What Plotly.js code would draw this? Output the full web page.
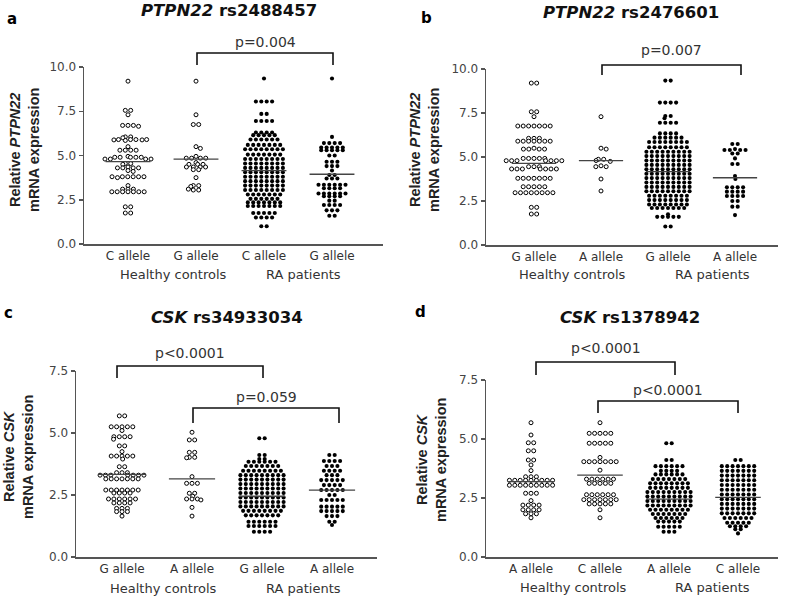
<!DOCTYPE html>
<html><head><meta charset="utf-8">
<script src="https://cdn.plot.ly/plotly-3.0.1.min.js"></script>
<style>html,body{margin:0;padding:0;background:#fff}#chart{width:787px;height:600px}</style>
</head><body><div id="chart"></div>
<script>
// ---------------- DATA ----------------
const groupLabels = ['Healthy controls', 'RA patients'];

// Panel a: PTPN22 rs2488457
const aTicks = ['C allele', 'G allele', 'C allele', 'G allele'];
const aHcC = [9.2, 7.55,7.55, 7.3, 6.7,6.7,6.7,6.65, 6.05,6.05,6.0, 5.9,5.9,5.9,5.88,5.88,5.9,5.85, 5.5,
  5.3,5.3,5.3,5.3, 4.95,4.9,4.9,4.9,4.9,4.9, 4.8,4.8,4.8,4.8, 4.55,4.55,4.5, 4.35,4.3,4.3,4.3,4.3, 4.15,4.1,
  3.8,3.8,3.8,3.8,3.75,3.8,3.8, 3.3, 3.1,3.1,3.1, 2.95,2.95,2.95,2.95,2.95,2.95,2.95, 2.1,2.1, 1.75,1.75];
const aHcG = [9.2, 7.3, 6.75,6.75, 5.5, 5.4, 4.95, 4.85,4.85,4.85,4.85, 4.6, 4.5,4.5,4.5, 4.35,4.35,4.35,4.35,
  4.2,4.2, 3.75, 3.3,3.3, 3.25, 3.05,3.05,3.1];
const aRaC = [9.35, 8.05,8.05,8.05,8.05, 7.35,7.35, 6.95,6.95,6.95,6.95, 6.3,6.3,6.3,6.3, 6.15,6.15,6.15,6.15,6.15,
  5.9,5.9,5.9,5.9,5.9,5.9, 5.6,5.6,5.6,5.6,5.6,5.6,5.6, 5.35,5.35,5.35,5.35,5.35,5.35,5.35,5.35,
  5.05,5.05,5.05,5.05,5.05,5.05,5.05, 4.8,4.8,4.8,4.8,4.8,4.8,4.8,4.8, 4.55,4.55,4.55,4.55,4.55,4.55,4.55,4.55,
  4.3,4.3,4.3,4.3,4.3,4.3,4.3,4.3, 4.05,4.05,4.05,4.05,4.05,4.05,4.05,4.05, 3.8,3.8,3.8,3.8,3.8,3.8,3.8,3.8,
  3.55,3.55,3.55,3.55,3.55,3.55,3.55,3.55, 3.3,3.3,3.3,3.3,3.3,3.3,3.3,3.3, 3.05,3.05,3.05,3.05,3.05,3.05,3.05,3.05,
  2.8,2.8,2.8,2.8,2.8,2.8,2.8, 2.55,2.55,2.55,2.55,2.55,2.55, 2.35,2.35,2.35,2.35,2.35,2.35,2.35,
  2.15,2.15,2.15,2.15,2.15,2.15,2.15, 1.75,1.75,1.75,1.75,1.75, 1.5,1.5,1.5,1.5, 1.0,1.0];
const aRaG = [9.35, 6.05, 5.7,5.7,5.7,5.7, 5.45,5.45,5.45,5.45,5.45, 5.3,5.3,5.3,5.3,5.3, 5.0,5.0, 4.65,4.65,4.65,
  4.4,4.4,4.4, 4.15, 3.9,3.9, 3.7,3.7,3.7, 3.35,3.35,3.35,3.35,3.35,3.35, 3.15,3.15,3.15,3.15,
  2.85,2.85,2.85,2.85,2.85,2.85, 2.7,2.7,2.7,2.7, 2.45,2.45, 2.2,2.2,2.2,2.2, 1.9,1.9,1.9, 1.6,1.6];
const aMeans = [4.65, 4.8, 4.15, 3.94];

// Panel b: PTPN22 rs2476601
const bTicks = ['G allele', 'A allele', 'G allele', 'A allele'];
const bHcG = [9.2,9.2, 7.57,7.57, 7.29, 6.76,6.76,6.76,6.76,6.76,6.76,6.76, 6.06,6.06,6.06, 5.9,5.9,5.9,5.9,5.9,5.9,5.9,
  5.5, 5.45,5.45,5.45,5.45, 4.92,4.92,4.92,4.92,4.92, 4.79,4.79,4.79,4.79,4.79,4.79,4.79, 4.45,4.45,4.45,
  4.32,4.32,4.32,4.32,4.32,4.32,4.32, 3.79,3.79,3.79,3.79,3.79,3.79,3.79, 3.31,3.31,3.31,3.31,3.31,
  2.97,2.97,2.97,2.97,2.97,2.97,2.97,2.97, 2.14,2.14, 1.76,1.76];
const bHcA = [7.29, 5.5, 5.45, 4.87, 4.87, 4.8, 4.75, 4.5, 4.45, 4.45, 3.75, 3.07];
const bRaG = [9.34,9.34, 8.09,8.09,8.09,8.09, 7.33,7.33, 7.2, 6.95,6.95,6.95,6.95, 6.34,6.34,6.34,6.34,
  6.1,6.1,6.1,6.1,6.1,6.1, 5.85,5.85,5.85,5.85,5.85,5.85,5.85,5.85, 5.55,5.55,5.55,5.55,5.55,5.55,5.55,5.55,
  5.3,5.3,5.3,5.3,5.3,5.3,5.3,5.3,5.3, 5.05,5.05,5.05,5.05,5.05,5.05,5.05,5.05,5.05,
  4.8,4.8,4.8,4.8,4.8,4.8,4.8,4.8,4.8, 4.55,4.55,4.55,4.55,4.55,4.55,4.55,4.55,4.55,
  4.3,4.3,4.3,4.3,4.3,4.3,4.3,4.3,4.3, 4.05,4.05,4.05,4.05,4.05,4.05,4.05,4.05,4.05,
  3.8,3.8,3.8,3.8,3.8,3.8,3.8,3.8,3.8, 3.55,3.55,3.55,3.55,3.55,3.55,3.55,3.55,3.55,
  3.3,3.3,3.3,3.3,3.3,3.3,3.3,3.3,3.3, 3.05,3.05,3.05,3.05,3.05,3.05,3.05,3.05,3.05,
  2.8,2.8,2.8,2.8,2.8,2.8,2.8,2.8, 2.55,2.55,2.55,2.55,2.55,2.55,2.55,2.55, 2.3,2.3,2.3,2.3,2.3,2.3,2.3,2.3,
  2.1,2.1,2.1,2.1,2.1,2.1,2.1, 1.75, 1.6,1.6,1.6,1.6,1.6, 1.05,1.05];
const bRaA = [5.74,5.74, 5.45, 5.4,5.4,5.4,5.4, 5.2,5.2, 4.92, 4.6,4.6, 3.92, 3.75, 3.28,3.28,3.28,3.28,
  3.03,3.03,3.03,3.03, 2.78,2.78,2.78,2.78, 2.5,2.5, 2.18,2.18, 1.7];
const bMeans = [4.64, 4.79, 4.17, 3.82];

// Panel c: CSK rs34933034
const cTicks = ['G allele', 'A allele', 'G allele', 'A allele'];
const cHcG = [5.69,5.69, 5.25,5.25,5.25,5.25,5.25, 5.1, 4.85,4.85,4.85,4.85, 4.75, 4.48,4.48, 4.25,
  4.07,4.07,4.07,4.07,4.07, 3.95, 3.64,3.64, 3.4,3.4,3.4, 3.3,3.3,3.3,3.3,3.3,3.3,3.3,
  3.15,3.15,3.15,3.15,3.15,3.15,3.15, 2.7,2.7,2.7,2.7,2.7,2.7,2.7, 2.58,2.58,2.58,2.58,
  2.34,2.34,2.34,2.34,2.34,2.34, 2.18,2.18,2.18,2.18, 1.96,1.96,1.96, 1.83,1.83,1.83, 1.65];
const cHcA = [5.03, 4.72,4.72, 4.22,4.22, 4.02,4.02,4.0, 3.24, 2.97,2.97,2.97, 2.57,2.57, 2.45,
  2.34,2.34,2.34,2.3, 2.0, 1.65];
const cRaG = [4.79,4.79, 4.11,4.11, 3.95,3.95, 3.84,3.84,3.84,3.84,3.84,3.84, 3.67,3.67,3.67,3.67,3.67,3.67,3.67,
  3.48,3.48,3.48,3.48,3.48,3.48,3.48,3.48, 3.3,3.3,3.3,3.3,3.3,3.3,3.3,3.3,3.3,
  3.12,3.12,3.12,3.12,3.12,3.12,3.12,3.12,3.12, 2.94,2.94,2.94,2.94,2.94,2.94,2.94,2.94,2.94,
  2.76,2.76,2.76,2.76,2.76,2.76,2.76,2.76,2.76, 2.58,2.58,2.58,2.58,2.58,2.58,2.58,2.58,2.58,
  2.4,2.4,2.4,2.4,2.4,2.4,2.4,2.4,2.4, 2.22,2.22,2.22,2.22,2.22,2.22,2.22,2.22,2.22,
  2.04,2.04,2.04,2.04,2.04,2.04,2.04,2.04,2.04, 1.86,1.86,1.86,1.86,1.86,1.86,1.86,1.86,
  1.68,1.68,1.68,1.68,1.68,1.68,1.68, 1.42,1.42,1.42,1.42,1.42,1.42, 1.25,1.25,1.25,1.25,1.25,1.25,
  1.02,1.02,1.02,1.02];
const cRaA = [4.11,4.11, 3.87,3.87,3.87,3.87, 3.67,3.67,3.67, 3.48,3.48,3.48,3.48, 3.3,3.3,3.3,
  3.1,3.1,3.1,3.1,3.1, 2.9,2.9,2.9,2.9, 2.7,2.7,2.7,2.7,2.7, 2.5,2.5, 2.3,2.3,2.3,2.3,2.3,
  2.03,2.03,2.03,2.03,2.03, 1.85,1.85,1.85,1.85,1.85, 1.65,1.65,1.65, 1.42,1.42, 1.29];
const cMeans = [3.33, 3.15, 2.45, 2.7];

// Panel d: CSK rs1378942
const dTicks = ['A allele', 'C allele', 'A allele', 'C allele'];
const dHcA = [5.69, 5.17, 4.84,4.84, 4.5,4.5, 4.11,4.11, 3.9, 3.66, 3.4,3.4,3.4,
  3.25,3.25,3.25,3.25,3.25,3.25,3.25,3.25,3.25, 3.04,3.04,3.04,3.04,3.04,3.04,3.04,3.04,3.04,
  2.7,2.7,2.7, 2.39, 2.2,2.2,2.2,2.2, 2.0,2.0,2.0,2.0, 1.83,1.83,1.83, 1.66];
const dHcC = [5.69, 5.24,5.24,5.24,5.24,5.24, 4.82,4.82,4.82,4.82,4.82, 4.22, 4.04,4.04,4.04,4.04,4.04,4.04,4.04,
  3.68, 3.3,3.3,3.3,3.3,3.3,3.3, 3.12,3.12,3.12,3.12,3.12, 2.64,2.64,2.64,2.64,2.64,2.64,
  2.43,2.43,2.43,2.43,2.43,2.43,2.43, 2.25,2.25,2.25,2.25,2.25, 2.0, 1.66];
const dRaA = [4.82,4.82, 4.11,4.11, 3.85,3.85,3.85,3.85,3.85,3.85, 3.65,3.65,3.65,3.65, 3.5,3.5,3.5,3.5,3.5,3.5,
  3.3,3.3,3.3,3.3,3.3,3.3,3.3, 3.12,3.12,3.12,3.12,3.12,3.12,3.12,3.12, 2.93,2.93,2.93,2.93,2.93,2.93,2.93,2.93,
  2.75,2.75,2.75,2.75,2.75,2.75,2.75,2.75,2.75, 2.56,2.56,2.56,2.56,2.56,2.56,2.56,2.56,2.56,
  2.37,2.37,2.37,2.37,2.37,2.37,2.37,2.37,2.37, 2.18,2.18,2.18,2.18,2.18,2.18,2.18,2.18,2.18,
  2.0,2.0,2.0,2.0,2.0,2.0,2.0,2.0, 1.82,1.82,1.82,1.82,1.82,1.82,1.82, 1.65,1.65,1.65,1.65,1.65,1.65,
  1.5,1.5,1.5,1.5,1.5, 1.28,1.28,1.28,1.28,1.28, 1.07,1.07,1.07];
const dRaC = [4.11,4.11, 3.85,3.85,3.85,3.85,3.85,3.85,3.85, 3.65,3.65,3.65,3.65,3.65,3.65,3.65,
  3.45,3.45,3.45,3.45,3.45,3.45,3.45, 3.25,3.25,3.25,3.25,3.25,3.25,3.25, 3.05,3.05,3.05,3.05,3.05,3.05,3.05,
  2.85,2.85,2.85,2.85,2.85,2.85,2.85, 2.65,2.65,2.65,2.65,2.65,2.65,2.65, 2.45,2.45,2.45,2.45,2.45,2.45,2.45,
  2.25,2.25,2.25,2.25,2.25,2.25,2.25, 2.05,2.05,2.05,2.05,2.05,2.05,2.05, 1.85,1.85,1.85,1.85,1.85,1.85,1.85,
  1.65,1.65,1.65,1.65,1.65,1.65, 1.45,1.45,1.45,1.45,1.45, 1.3,1.3,1.3,1.3, 1.18,1.18, 1.0];
const dMeans = [3.19, 3.47, 2.45, 2.53];

// ---------------- LAYOUT GEOMETRY (pixels) ----------------
const W = 787, H = 600;
const FONT = 'DejaVu Sans, Arial, sans-serif';
const PX = x => x / W, PY = y => 1 - y / H;

const panels = [
  { ax: '', px: [84, 383], py: [67, 244], c0: 128, step: 68, ymax: 10, ticks: aTicks,
    groups: [aHcC, aHcG, aRaC, aRaG], means: aMeans,
    letter: ['a', 12, 19], title: ['<b><i>PTPN22</i> rs2488457</b>', 229, 11],
    ytitle: ['<b>Relative <i>PTPN22</i><br>mRNA expression</b>', 24, 150],
    glab: [[173, 274], [303, 274]],
    brackets: [{ x1: 197, x2: 333, yb: 53, ye: 65, t: 'p=0.004', ty: 42 }] },
  { ax: '2', px: [486, 778], py: [69, 245], c0: 534, step: 67, ymax: 10, ticks: bTicks,
    groups: [bHcG, bHcA, bRaG, bRaA], means: bMeans,
    letter: ['b', 426, 18], title: ['<b><i>PTPN22</i> rs2476601</b>', 631, 12],
    ytitle: ['<b>Relative <i>PTPN22</i><br>mRNA expression</b>', 424, 150],
    glab: [[572, 275], [712, 275]],
    brackets: [{ x1: 602, x2: 741, yb: 65, ye: 75, t: 'p=0.007', ty: 50 }] },
  { ax: '3', px: [76, 377], py: [371, 557], c0: 122, step: 70, ymax: 7.5, ticks: cTicks,
    groups: [cHcG, cHcA, cRaG, cRaA], means: cMeans,
    letter: ['c', 8, 313], title: ['<b><i>CSK</i> rs34933034</b>', 227, 317],
    ytitle: ['<b>Relative <i>CSK</i><br>mRNA expression</b>', 18, 457],
    glab: [[163, 588], [303, 588]],
    brackets: [{ x1: 117, x2: 263, yb: 366, ye: 378, t: 'p&lt;0.0001', ty: 353 },
               { x1: 193, x2: 339, yb: 408, ye: 423, t: 'p=0.059', ty: 397 }] },
  { ax: '4', px: [486, 778], py: [380, 557], c0: 531, step: 69, ymax: 7.5, ticks: dTicks,
    groups: [dHcA, dHcC, dRaA, dRaC], means: dMeans,
    letter: ['d', 421, 312], title: ['<b><i>CSK</i> rs1378942</b>', 630, 317],
    ytitle: ['<b>Relative <i>CSK</i><br>mRNA expression</b>', 431, 460],
    glab: [[573, 587], [712, 587]],
    brackets: [{ x1: 536, x2: 675, yb: 362, ye: 375, t: 'p&lt;0.0001', ty: 348 },
               { x1: 598, x2: 738, yb: 401, ye: 413, t: 'p&lt;0.0001', ty: 390 }] }
];

// beeswarm layout in pixel space (horizontal diameter D, vertical diameter SY)
function swarm(vals, pxPerUnit, D, SY) {
  const k = D / SY, placed = [], out = [];
  vals.forEach(v => {
    const y = v * pxPerUnit * k;
    const cands = [0];
    placed.forEach(p => {
      const dy = Math.abs(p.y - y);
      if (dy < D) { const dx = Math.sqrt(D * D - dy * dy); cands.push(p.x + dx, p.x - dx); }
    });
    cands.sort((a, b) => (Math.abs(a) - Math.abs(b)) || (b - a));
    let best = 0;
    for (const c of cands) {
      if (placed.every(p => { const dx = p.x - c, dy = p.y - y; return dx * dx + dy * dy >= D * D - 1e-6; })) { best = c; break; }
    }
    placed.push({ x: best, y }); out.push(best);
  });
  // centre each row of equal values
  const rows = {};
  vals.forEach((v, i) => { (rows[v] = rows[v] || []).push(i); });
  Object.values(rows).forEach(ix => {
    if (ix.length < 2) return;
    const xs = ix.map(i => out[i]);
    const mid = (Math.min(...xs) + Math.max(...xs)) / 2;
    if (Math.abs(mid) <= D / 2 + 1e-6) ix.forEach(i => { out[i] -= mid; });
  });
  return out;
}

const traces = [], shapes = [], annotations = [];
const layout = {
  width: W, height: H, margin: { l: 0, r: 0, t: 0, b: 0 },
  paper_bgcolor: '#fff', plot_bgcolor: '#fff', showlegend: false,
  font: { family: FONT, color: '#333' }
};

panels.forEach(p => {
  const xa = 'x' + p.ax, ya = 'y' + p.ax;
  const pxPerUnit = (p.py[1] - p.py[0]) / p.ymax;
  const xr = [-(p.c0 - p.px[0]) / p.step, (p.px[1] - p.c0) / p.step];
  layout['xaxis' + p.ax] = {
    domain: [PX(p.px[0]), PX(p.px[1])], range: xr, anchor: ya,
    showline: true, linecolor: '#555', linewidth: 1.5, showgrid: false, zeroline: false,
    ticks: '', tickvals: [0, 1, 2, 3], ticktext: p.ticks, ticklabelstandoff: 0,
    tickfont: { family: FONT, size: 12, color: '#333' }, fixedrange: true
  };
  const tv = p.ymax === 10 ? [0, 2.5, 5, 7.5, 10] : [0, 2.5, 5, 7.5];
  layout['yaxis' + p.ax] = {
    domain: [PY(p.py[1]), PY(p.py[0])], range: [0, p.ymax], anchor: xa,
    showline: true, linecolor: '#555', linewidth: 1.5, showgrid: false, zeroline: false,
    ticks: 'outside', ticklen: 4, tickwidth: 1.5, tickcolor: '#555',
    tickvals: tv, tickformat: '.1f',
    tickfont: { family: FONT, size: 12, color: '#444' }, fixedrange: true
  };
  p.groups.forEach((vals, i) => {
    const offs = swarm(vals, pxPerUnit, 5.4, 3.0);
    const open = i < 2;
    traces.push({
      type: 'scatter', mode: 'markers', xaxis: xa, yaxis: ya, hoverinfo: 'y',
      x: offs.map(o => i + o / p.step), y: vals,
      marker: open ? { symbol: 'circle', size: 4, color: '#fff', line: { color: '#000', width: 1 } }
                   : { symbol: 'circle', size: 4.1, color: '#000', line: { width: 0 } },
      cliponaxis: false
    });
  });
  p.means.forEach((m, i) => {
    traces.push({
      type: 'scatter', mode: 'lines', xaxis: xa, yaxis: ya, hoverinfo: 'skip',
      x: [i - 0.33, i + 0.33], y: [m, m], line: { color: '#444', width: 1.3 }
    });
  });
  annotations.push({ xref: 'paper', yref: 'paper', x: PX(p.letter[1]), y: PY(p.letter[2]),
    text: '<b>' + p.letter[0] + '</b>', showarrow: false, xanchor: 'center', yanchor: 'middle',
    font: { family: FONT, size: 15, color: '#000' } });
  annotations.push({ xref: 'paper', yref: 'paper', x: PX(p.title[1]), y: PY(p.title[2]),
    text: p.title[0], showarrow: false, xanchor: 'center', yanchor: 'middle',
    font: { family: FONT, size: 16.5, color: '#111' } });
  annotations.push({ xref: 'paper', yref: 'paper', x: PX(p.ytitle[1]), y: PY(p.ytitle[2]),
    text: p.ytitle[0], showarrow: false, xanchor: 'center', yanchor: 'middle', textangle: -90,
    font: { family: 'Liberation Sans, Arial, sans-serif', size: 14.5, color: '#222' } });
  groupLabels.forEach((g, j) => {
    annotations.push({ xref: 'paper', yref: 'paper', x: PX(p.glab[j][0]), y: PY(p.glab[j][1]),
      text: g, showarrow: false, xanchor: 'center', yanchor: 'middle',
      font: { family: FONT, size: 13, color: '#333' } });
  });
  p.brackets.forEach(b => {
    shapes.push({ type: 'path', xref: 'paper', yref: 'paper',
      path: `M ${PX(b.x1)},${PY(b.ye)} L ${PX(b.x1)},${PY(b.yb)} L ${PX(b.x2)},${PY(b.yb)} L ${PX(b.x2)},${PY(b.ye)}`,
      line: { color: '#111', width: 1.6 } });
    annotations.push({ xref: 'paper', yref: 'paper', x: PX((b.x1 + b.x2) / 2), y: PY(b.ty),
      text: b.t, showarrow: false, xanchor: 'center', yanchor: 'middle',
      font: { family: FONT, size: 14, color: '#333' } });
  });
});

layout.shapes = shapes;
layout.annotations = annotations;
Plotly.newPlot('chart', traces, layout, { displayModeBar: false, staticPlot: true });
</script>
</body></html>
